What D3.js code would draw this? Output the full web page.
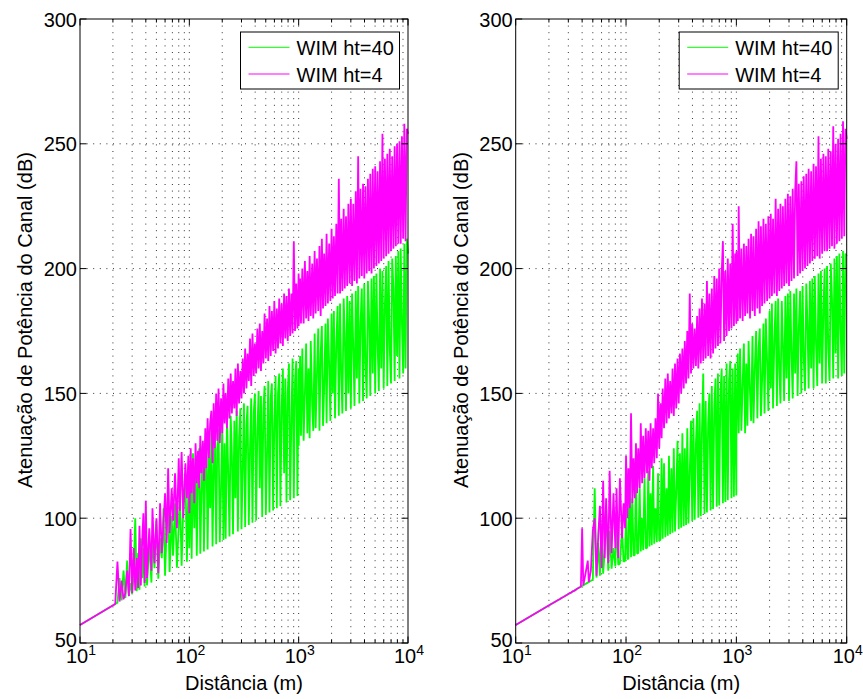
<!DOCTYPE html>
<html>
<head>
<meta charset="utf-8">
<script src="https://cdn.jsdelivr.net/npm/d3@7"></script>
<style>
  body { margin: 0; background: #fff; }
  text { font-family: "Liberation Sans", Arial, sans-serif; fill: #000; }
</style>
</head>
<body>
<svg id="chart" width="863" height="699"></svg>
<script>
// distance samples (m), shared by both panels
const distance = [
  10, 21, 22, 23, 24, 25, 26, 27, 28, 29,
  30, 31, 32, 33, 34, 35, 36, 37, 38, 39,
  40, 41, 43, 45, 46, 48, 50, 52, 54, 56,
  58, 60, 62, 64, 66, 69, 71, 74, 77, 80,
  82, 85, 88, 92, 95, 98, 100, 103, 105, 108,
  111, 114, 117, 120, 123, 126, 129, 133, 136, 140,
  143, 147, 151, 155, 159, 163, 167, 171, 176, 180,
  185, 190, 195, 200, 205, 210, 215, 221, 227, 233,
  239, 245, 251, 258, 264, 271, 278, 285, 293, 300,
  308, 316, 324, 333, 341, 350, 359, 368, 378, 388,
  398, 408, 419, 430, 441, 452, 464, 476, 488, 501,
  514, 527, 541, 555, 569, 584, 599, 615, 631, 647,
  664, 681, 699, 717, 736, 755, 774, 794, 815, 836,
  858, 880, 903, 926, 950, 975, 999, 1001, 1030, 1050,
  1080, 1110, 1140, 1170, 1200, 1230, 1260, 1290, 1330, 1360,
  1400, 1430, 1470, 1510, 1550, 1590, 1630, 1670, 1710, 1760,
  1800, 1850, 1900, 1950, 2000, 2050, 2100, 2150, 2210, 2270,
  2330, 2390, 2450, 2510, 2580, 2640, 2710, 2780, 2850, 2930,
  3000, 3080, 3160, 3240, 3330, 3410, 3500, 3590, 3680, 3780,
  3880, 3980, 4080, 4190, 4300, 4410, 4520, 4640, 4760, 4880,
  5010, 5140, 5270, 5410, 5550, 5690, 5840, 5990, 6150, 6310,
  6470, 6640, 6810, 6990, 7170, 7360, 7550, 7740, 7940, 8150,
  8360, 8580, 8800, 9030, 9260, 9500, 9750, 10000
];

// left panel, WIM ht=40 (dB)
const greenLeft = [
  57.2, 65.6, 66.1, 76, 67.1, 79, 68.0, 83, 68.8, 74,
  69.6, 78, 100, 70.7, 86, 71.3, 92, 76, 88, 72.6,
  95, 73.1, 90, 74.2, 93, 80, 99, 75.8, 92, 84,
  104, 77.0, 96, 108, 78.5, 101, 85, 106, 80.2, 97,
  110, 81.0, 104, 118, 82.6, 113, 88, 122, 83.8, 126,
  96, 124, 85.0, 118, 128, 85.8, 110, 130, 86.7, 122,
  132, 87.5, 126, 104, 134, 88.7, 120, 135, 89.6, 128,
  136, 90.4, 112, 138, 91.3, 130, 91.8, 140, 118, 92.7,
  141, 125, 93.6, 139, 108, 143, 94.7, 132, 144, 95.6,
  120, 146, 96.5, 138, 145, 97.3, 128, 148, 98.2, 142,
  150, 99.1, 135, 151, 112, 149, 100.5, 144, 153, 101.4,
  126, 155, 102.3, 148, 154, 103.1, 138, 157, 104.0, 150,
  158, 104.8, 144, 160, 118, 156, 106.3, 150, 162, 107.2,
  140, 164, 108.0, 155, 163, 108.9, 160, 129, 165, 133,
  168, 131, 150, 170, 134, 160, 132, 171, 145, 135,
  174, 136, 158, 176, 135, 166, 177, 137, 152, 178,
  138, 180, 162, 139, 182, 150, 183, 140, 170, 185,
  141, 186, 158, 142, 188, 174, 143, 189, 150, 187,
  144, 190, 168, 145, 191, 156, 193, 146, 178, 192,
  147, 194, 162, 148, 195, 180, 149, 196, 158, 197,
  150, 198, 170, 151, 200, 160, 199, 152, 186, 201,
  153, 203, 168, 154, 204, 192, 155, 205, 165, 207,
  156, 208, 178, 158, 210, 160, 212, 206
];

// left panel, WIM ht=4 (dB)
const magentaLeft = [
  57.2, 65.6, 82.6, 66.6, 75, 67.5, 70, 79, 68.8, 95.7,
  70, 88, 71, 84, 72, 97, 73, 90, 102, 74,
  107, 76, 96, 79, 104, 82, 100, 78, 106, 86,
  98, 110, 90, 120, 94, 112, 99, 118, 96, 124,
  103, 126.5, 100, 122, 108, 125, 102, 128, 110, 124,
  106, 130, 114, 127, 112, 133, 118, 131, 115, 136,
  120, 140, 124, 138, 143, 122, 146, 128, 150, 131,
  152, 130, 148, 134, 154, 138, 150, 136, 156, 140,
  158, 142, 155, 144, 160, 141, 162, 146, 159, 148,
  164, 150, 168, 152, 166, 155, 172, 153, 174, 157,
  170, 158, 176, 160, 178, 159, 175, 162, 182, 164,
  180, 163, 185, 165, 183, 167, 187, 166, 184, 168,
  188, 170, 186, 169, 190, 172, 189, 171, 192, 173,
  190, 174, 211, 175, 194, 176, 198, 177, 196, 178,
  200, 178, 203, 180, 199, 179, 205, 181, 202, 180,
  207, 182, 204, 183, 209, 181, 212, 184, 206, 185,
  214, 186, 210, 187, 216, 188, 213, 189, 218, 190,
  236, 190, 220, 191, 224, 192, 221, 193, 226, 194,
  228, 193, 226, 195, 231, 194, 245, 196, 232, 197,
  234, 196, 233, 198, 236, 199, 238, 198, 240, 200,
  241, 201, 239, 202, 243, 203, 254, 204, 244, 205,
  246, 206, 248, 207, 245, 208, 249, 209, 250, 210,
  251, 210, 253, 212, 258, 211, 256, 254
];

// right panel, WIM ht=40 (dB)
const greenRight = [
  57.2, 65.6, 66.1, 66.6, 67.1, 67.5, 68.0, 68.4, 68.8, 69.2,
  69.6, 70.0, 70.3, 70.7, 71.0, 71.3, 71.7, 72.0, 72.3, 72.6,
  72.9, 73.1, 73.7, 74.2, 74.4, 74.9, 75.4, 112, 76.2, 90,
  77.0, 98, 77.8, 86, 104, 79.0, 95, 79.8, 88, 80.7,
  100, 81.4, 81.8, 96, 82.6, 83.0, 104, 83.5, 83.8, 118,
  84.4, 108, 85.0, 85.3, 118, 85.8, 86.1, 112, 86.7, 100,
  87.2, 116, 87.9, 88.1, 119, 88.7, 110, 89.2, 121, 89.8,
  104, 90.4, 118, 91.0, 91.3, 124, 91.8, 122, 92.4, 112,
  93.0, 125, 93.6, 120, 94.2, 128, 94.7, 110, 131, 95.6,
  126, 96.2, 134, 96.8, 128, 97.3, 136, 97.9, 118, 139,
  98.8, 140, 99.4, 130, 143, 100.2, 146, 100.8, 136, 158,
  101.7, 147, 102.3, 138, 150, 103.1, 153, 103.7, 145, 156,
  104.6, 158, 105.1, 150, 160, 106.0, 157, 106.6, 162, 107.2,
  155, 163, 108.0, 160, 108.6, 162, 109.2, 132, 166, 134,
  168, 135, 154, 170, 134, 162, 137, 171, 150, 139,
  173, 138, 160, 175, 140, 168, 176, 141, 155, 178,
  142, 180, 163, 143, 183, 152, 186, 144, 172, 187,
  145, 188, 160, 146, 187, 170, 147, 189, 156, 190,
  147, 191, 166, 148, 190, 158, 192, 149, 176, 191,
  150, 193, 164, 151, 194, 178, 152, 195, 160, 196,
  152, 197, 170, 153, 198, 162, 199, 154, 184, 200,
  154, 201, 168, 155, 202, 188, 156, 204, 166, 205,
  156, 206, 176, 157, 207, 158, 206, 205
];

// right panel, WIM ht=4 (dB)
const magentaRight = [
  57.2, 65.6, 66.1, 66.6, 67.1, 67.5, 68.0, 68.4, 68.8, 69.2,
  69.6, 70.0, 70.3, 70.7, 71.0, 71.3, 71.7, 72.0, 72.3, 72.6,
  96, 73.1, 78, 83, 74.4, 79, 95, 100, 77, 93,
  105, 80, 115, 84, 108, 82, 119, 86, 110, 88,
  112, 84, 116, 92, 106, 96, 125, 100, 120, 104,
  142, 106, 124, 108, 130, 110, 128, 112, 138, 114,
  133, 116, 136, 118, 135, 115, 138, 120, 136, 122,
  140, 124, 150, 128, 146, 132, 152, 136, 156, 138,
  158, 140, 155, 142, 160, 141, 162, 144, 164, 146,
  166, 150, 168, 152, 171, 154, 175, 156, 190, 158,
  178, 160, 176, 161, 181, 160, 184, 162, 188, 163,
  186, 164, 195, 165, 190, 164, 192, 166, 197, 168,
  196, 169, 200, 170, 198, 211, 171, 199, 173, 204,
  175, 202, 176, 218, 177, 206, 178, 207, 179, 225,
  180, 208, 179, 210, 181, 209, 182, 212, 180, 214,
  183, 213, 181, 216, 184, 219, 182, 217, 185, 220,
  186, 218, 187, 221, 188, 222, 189, 220, 190, 228,
  189, 224, 191, 226, 192, 225, 193, 228, 194, 230,
  193, 229, 195, 232, 196, 231, 243, 197, 234, 198,
  235, 199, 237, 200, 238, 201, 240, 202, 239, 203,
  242, 204, 241, 205, 253, 204, 244, 206, 246, 207,
  245, 207, 248, 208, 247, 209, 257, 208, 250, 210,
  252, 211, 254, 212, 259, 213, 256, 252
];

const yTicks = [50, 100, 150, 200, 250, 300];
const xDecades = [10, 100, 1000, 10000];
const xExponents = ["1", "2", "3", "4"];
const legendLabels = ["WIM ht=40", "WIM ht=4"];
const seriesColors = ["#00ff00", "#ff00ff"];
const xLabel = "Distância (m)";
const yLabel = "Atenuação de Potência do Canal (dB)";

const svg = d3.select("#chart");
const plotTop = 19, plotBottom = 643;

const panels = [
  { left: 80, right: 408, series: [greenLeft, magentaLeft] },
  { left: 515.7, right: 846.7, series: [greenRight, magentaRight] }
];

panels.forEach(p => {
  const x = d3.scaleLog().domain([10, 10000]).range([p.left, p.right]);
  const y = d3.scaleLinear().domain([50, 300]).range([plotBottom, plotTop]);
  const g = svg.append("g");
  const allX = x.ticks();
  const isMajor = d => xDecades.includes(d);

  // dotted grid
  g.append("g").selectAll("line").data(allX.filter(d => d > 10 && d < 10000)).join("line")
    .attr("x1", d => x(d)).attr("x2", d => x(d))
    .attr("y1", plotTop).attr("y2", plotBottom)
    .attr("stroke", "#333").attr("stroke-width", 1)
    .attr("stroke-dasharray", "1,5.6");
  g.append("g").selectAll("line").data(yTicks.slice(1, -1)).join("line")
    .attr("x1", p.left).attr("x2", p.right)
    .attr("y1", d => y(d)).attr("y2", d => y(d))
    .attr("stroke", "#333").attr("stroke-width", 1)
    .attr("stroke-dasharray", "1,5.6");

  // data (noisy traces, magenta drawn last)
  const line = d3.line()
    .defined((d, i) => i < distance.length)
    .x((d, i) => x(distance[i])).y(d => y(d));
  p.series.forEach((s, k) => {
    g.append("path").attr("d", line(s))
      .attr("fill", "none").attr("stroke", seriesColors[k])
      .attr("stroke-width", 1.8).attr("stroke-linejoin", "bevel");
  });

  // ticks (inward, on all four sides)
  const tg = g.append("g").attr("stroke", "#000").attr("stroke-width", 1);
  allX.forEach(d => {
    const len = isMajor(d) ? 6.5 : 3.5;
    tg.append("line").attr("x1", x(d)).attr("x2", x(d)).attr("y1", plotBottom).attr("y2", plotBottom - len);
    tg.append("line").attr("x1", x(d)).attr("x2", x(d)).attr("y1", plotTop).attr("y2", plotTop + len);
  });
  yTicks.forEach(v => {
    tg.append("line").attr("x1", p.left).attr("x2", p.left + 6.5).attr("y1", y(v)).attr("y2", y(v));
    tg.append("line").attr("x1", p.right).attr("x2", p.right - 6.5).attr("y1", y(v)).attr("y2", y(v));
  });

  // box
  g.append("rect")
    .attr("x", p.left).attr("y", plotTop)
    .attr("width", p.right - p.left).attr("height", plotBottom - plotTop)
    .attr("fill", "none").attr("stroke", "#000").attr("stroke-width", 1);

  // tick labels
  g.append("g").selectAll("text").data(yTicks).join("text")
    .attr("x", p.left - 3).attr("y", d => y(d) + (d === 50 ? 4 : 7.5))
    .attr("text-anchor", "end").attr("font-size", 20)
    .text(d => d);
  xDecades.forEach((d, i) => {
    const t = g.append("text")
      .attr("x", x(d) + 1).attr("y", plotBottom + 20)
      .attr("text-anchor", "middle").attr("font-size", 20);
    t.append("tspan").text("10");
    t.append("tspan").attr("dy", -8).attr("font-size", 14).text(xExponents[i]);
  });

  // axis labels
  g.append("text")
    .attr("x", (p.left + p.right) / 2).attr("y", 690)
    .attr("text-anchor", "middle").attr("font-size", 20)
    .text(xLabel);
  g.append("text")
    .attr("transform", `translate(${p.left - 48},320) rotate(-90)`)
    .attr("text-anchor", "middle").attr("font-size", 20)
    .text(yLabel);

  // legend
  const bx = p.right - 167.5, by = plotTop + 13;
  const lg = g.append("g");
  lg.append("rect").attr("x", bx).attr("y", by).attr("width", 159).attr("height", 57)
    .attr("fill", "#fff").attr("stroke", "#000").attr("stroke-width", 1);
  legendLabels.forEach((lab, k) => {
    const ly = by + 15.3 + k * 26.7;
    lg.append("line").attr("x1", bx + 8).attr("x2", bx + 49).attr("y1", ly).attr("y2", ly)
      .attr("stroke", seriesColors[k]).attr("stroke-width", 1);
    lg.append("text").attr("x", bx + 56).attr("y", ly + 7.5)
      .attr("font-size", 20).text(lab);
  });
});
</script>
</body>
</html>
